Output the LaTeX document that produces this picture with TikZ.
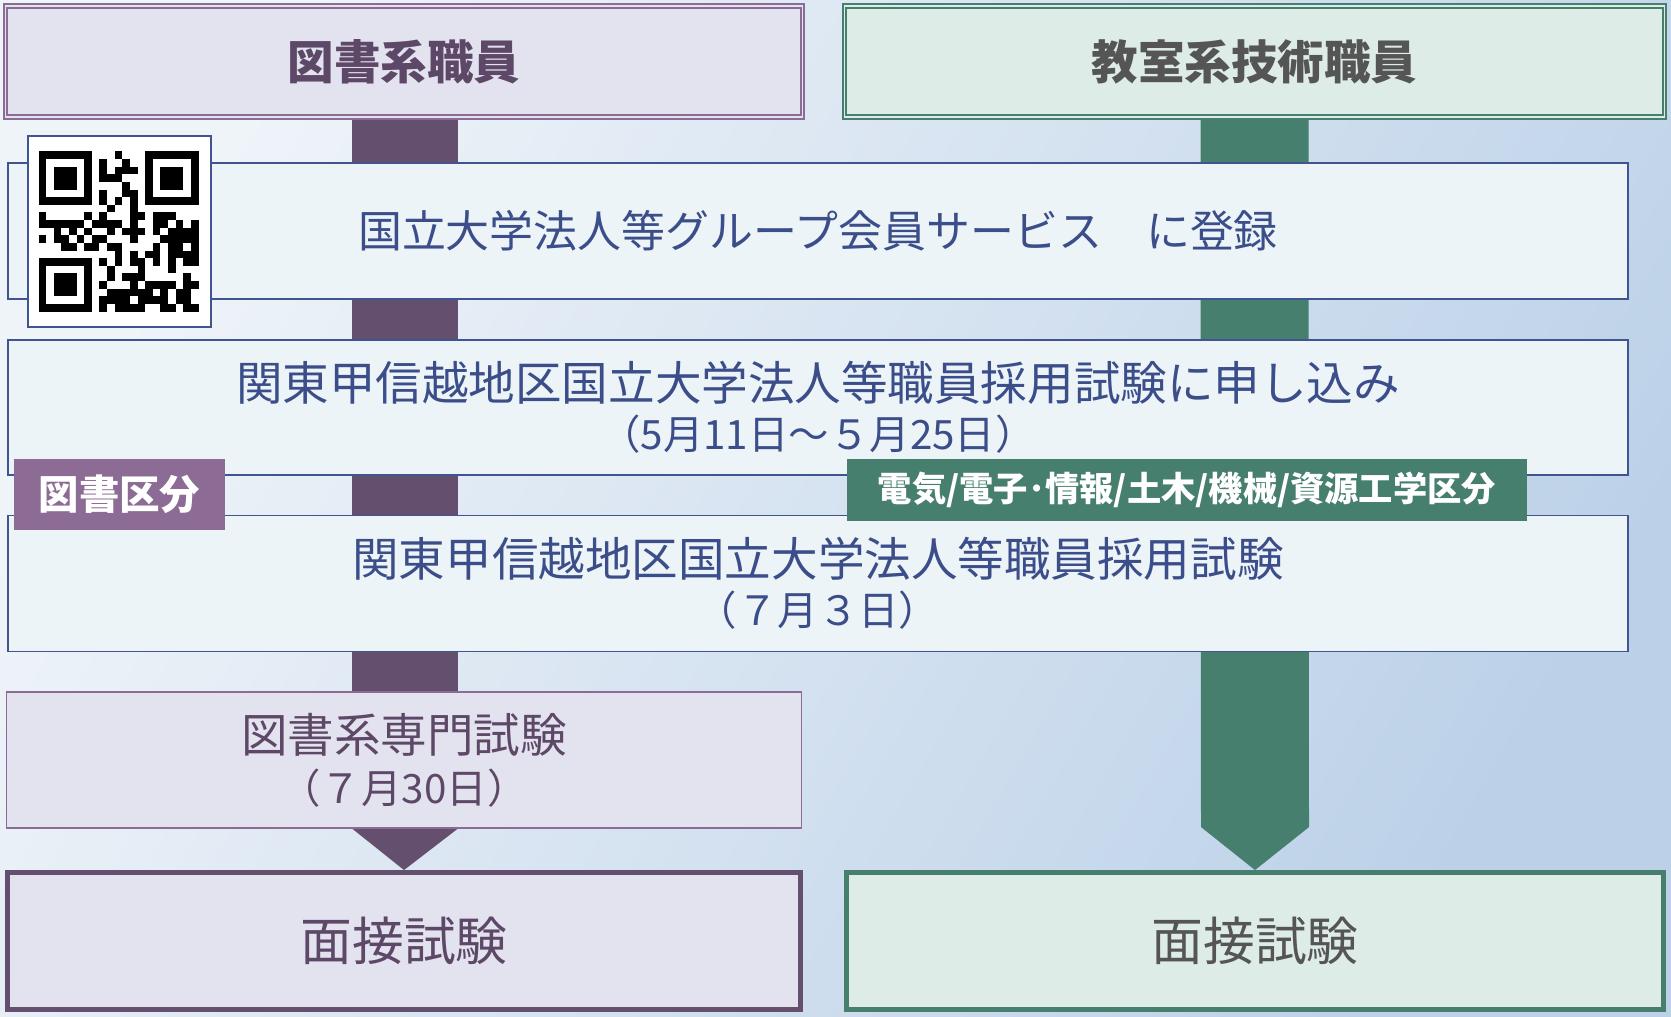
\documentclass[tikz,border=0pt]{standalone}
\usepackage{fontspec}
\setmainfont{Noto Sans CJK JP}
\usetikzlibrary{positioning,calc,backgrounds}
\definecolor{bgtop}{HTML}{EFF4F9}
\definecolor{bgbot}{HTML}{BCD1E8}
\definecolor{libdark}{HTML}{654F6E}
\definecolor{libmid}{HTML}{8C6C94}
\definecolor{libfill}{HTML}{E3E3EF}
\definecolor{libtext}{HTML}{5E4868}
\definecolor{tecdark}{HTML}{477F6F}
\definecolor{tecfill}{HTML}{DEECE8}
\definecolor{tectext}{HTML}{555555}
\definecolor{stepfill}{HTML}{EDF4F8}
\definecolor{stepline}{HTML}{3F5490}
\definecolor{steptext}{HTML}{3B4E8A}
\newcommand{\fs}[2]{\fontsize{#1}{#2}\selectfont}

\begin{document}
\begin{tikzpicture}[x=0.02cm, y=-0.02cm, inner sep=0pt,
  libhead/.style={draw=libmid, double=libfill, double distance=0.8pt, line width=1.1pt,
    fill=libfill, text=libtext, font=\bfseries\fs{26.5}{30}, minimum width=15.94cm, minimum height=2.22cm},
  techead/.style={draw=tecdark, double=tecfill, double distance=0.8pt, line width=1.1pt,
    fill=tecfill, text=tectext, font=\bfseries\fs{26.5}{30}, minimum width=16.4cm, minimum height=2.22cm},
  stepbox/.style={draw=stepline, line width=0.8pt, fill=stepfill, text=steptext, align=center,
    font=\fs{26.5}{28}, minimum width=32.4cm, minimum height=2.72cm},
  specbox/.style={draw=libmid, line width=0.6pt, fill=libfill, text=libtext, align=center,
    font=\fs{26.5}{29}, minimum width=15.9cm, minimum height=2.72cm},
  ivbox/.style={draw=#1, line width=2.8pt, font=\fs{29.5}{32}, minimum height=2.74cm},
  tagbox/.style={fill=#1, text=white, font=\bfseries}]
  \useasboundingbox (0,0) rectangle (1671,1017);

  % headers
  \node[libhead] (headL) at (404,61.5) {図書系職員};
  \node[techead] (headR) at (1254.5,61.5) {教室系技術職員};

  % common steps
  \node[stepbox, font=\fs{25}{28}] (reg) at (818,231) {国立大学法人等グループ会員サービス　に登録};
  \node[stepbox, minimum height=2.7cm] (apply) at (818,407.5)
    {関東甲信越地区国立大学法人等職員採用試験に申し込み\\{\fs{23}{28}（5月11日～５月25日）}};
  \node[stepbox] (exam) at (818,583.5)
    {関東甲信越地区国立大学法人等職員採用試験\\{\fs{23}{31}（７月３日）}};

  % library only
  \node[specbox] (spec) at (404,760) {図書系専門試験\\{\fs{23}{29}（７月30日）}};

  % interviews
  \node[ivbox=libdark, fill=libfill, text=libtext, minimum width=15.86cm] (ivL) at (404,941) {面接試験};
  \node[ivbox=tecdark, fill=tecfill, text=tectext, minimum width=16.34cm] (ivR) at (1255,941) {面接試験};

  % category tags
  \node[tagbox=libmid, font=\bfseries\fs{23}{26}, minimum width=4.22cm, minimum height=1.42cm] (tagL) at (119.5,494.5) {図書区分};
  \node[tagbox=tecdark, font=\bfseries\fs{19.5}{22}, minimum width=13.6cm, minimum height=1.24cm] (tagR) at (1187,490)
    {電気/電子･情報/土木/機械/資源工学区分};

  % QR code
  \node[draw=stepline, line width=0.6pt, fill=white, minimum width=3.66cm, minimum height=3.82cm] (qr) at (119.5,231.5) {};
  \pgfmathsetseed{2022}
  \begin{scope}[shift={(38.5,151.5)}]
    \foreach \fx/\fy in {0/0,14/0,0/14}{
      \fill ({\fx*7.62},{\fy*7.62}) rectangle +(53.34,53.34);
      \fill[white] ({(\fx+1)*7.62},{(\fy+1)*7.62}) rectangle +(38.1,38.1);
      \fill ({(\fx+2)*7.62},{(\fy+2)*7.62}) rectangle +(22.86,22.86);
    }
    \foreach \r in {0,...,20}{
      \foreach \c in {0,...,20}{
        \pgfmathtruncatemacro\keep{!((\r<8 && \c<8) || (\r<8 && \c>12) || (\r>12 && \c<8))}
        \pgfmathtruncatemacro\bit{\keep*((\r==6 || \c==6) ? (mod(\r+\c,2)==0) : (rnd<0.52))}
        \ifnum\bit=1 \fill ({\c*7.62},{\r*7.62}) rectangle +(7.62,7.62); \fi
      }
    }
  \end{scope}

  % background and flow bars
  \begin{scope}[on background layer]
    \shade[top color=bgtop, bottom color=bgbot, shading angle=60] (0,0) rectangle (1671,1017);
    \fill[libdark] ($(headL.south)+(-52,0)$) rectangle ($(spec.north)+(54,0)$);
    \fill[libdark] ($(spec.south)+(-52,0)$) -- ($(spec.south)+(54,0)$) -- (ivL.north) -- cycle;
    \fill[tecdark] ($(headR.south)+(-54,0)$) -- ($(ivR.north)+(-54,-43)$) -- (ivR.north)
      -- ($(ivR.north)+(54,-43)$) -- ($(headR.south)+(54,0)$) -- cycle;
  \end{scope}
\end{tikzpicture}
\end{document}
